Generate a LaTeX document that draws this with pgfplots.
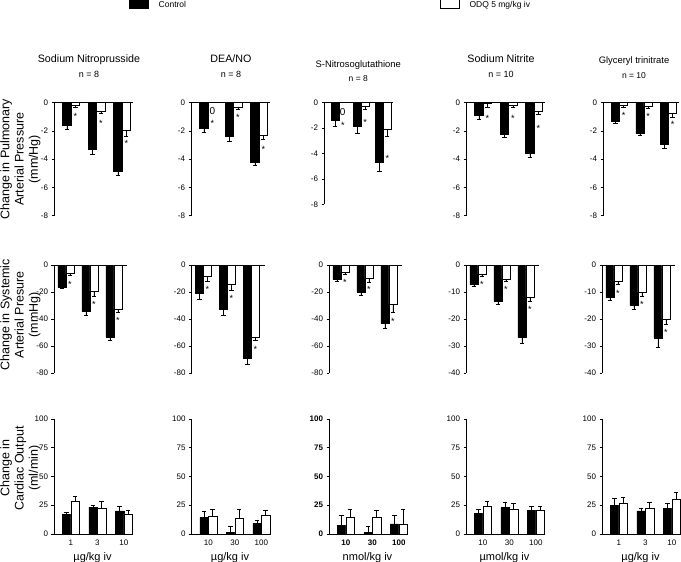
\documentclass[border=0pt]{standalone}
\usepackage{pgfplots}
\pgfplotsset{compat=1.18}
\usepackage{pgfplotstable}
\usepackage{fontspec}
\setmainfont{Liberation Sans}

% columns: dose index, control, control err, ODQ, ODQ err, star y
\pgfplotstableread{
x c ce o oe s
1 -1.59 0.26 -0.19 0.14 -0.81
2 -3.29 0.36 -0.57 0.19 -1.35
3 -4.86 0.26 -1.94 0.43 -2.77
}\Aone
\pgfplotstableread{
x c ce o oe s
1 -1.78 0.33 0 0 -1.35
2 -2.37 0.33 -0.30 0.14 -0.88
3 -4.19 0.26 -2.30 0.30 -3.18
}\Atwo
\pgfplotstableread{
x c ce o oe s
1 -1.39 0.50 0 0 -1.68
2 -1.84 0.58 -0.26 0.26 -1.42
3 -4.72 0.66 -2.07 0.58 -4.25
}\Athree
\pgfplotstableread{
x c ce o oe s
1 -0.92 0.26 -0.05 0.24 -0.95
2 -2.20 0.28 -0.17 0.12 -0.95
3 -3.58 0.31 -0.57 0.24 -1.71
}\Afour
\pgfplotstableread{
x c ce o oe s
1 -1.28 0.19 -0.21 0.12 -0.76
2 -2.18 0.14 -0.24 0.17 -0.81
3 -2.94 0.31 -0.78 0.26 -1.40
}\Afive
\pgfplotstableread{
x c ce o oe s
1 -16.3 1.0 -6.2 1.7 -12.9
2 -34.4 2.5 -19.6 3.2 -27.7
3 -53.2 2.5 -32.9 2.2 -39.6
}\Bone
\pgfplotstableread{
x c ce o oe s
1 -20.8 4.7 -8.7 3.5 -16.6
2 -32.7 4.5 -14.6 4.0 -23.5
3 -69.3 4.2 -53.2 2.7 -61.1
}\Btwo
\pgfplotstableread{
x c ce o oe s
1 -10.6 1.5 -5.4 1.2 -11.6
2 -20.0 2.7 -9.9 2.7 -16.6
3 -43.3 3.7 -29.2 5.9 -40.3
}\Bthree
\pgfplotstableread{
x c ce o oe s
1 -7.2 0.7 -3.3 1.0 -6.4
2 -13.4 1.2 -5.3 0.9 -8.4
3 -26.8 2.1 -12.0 1.5 -15.7
}\Bfour
\pgfplotstableread{
x c ce o oe s
1 -12.0 1.1 -6.1 1.1 -9.7
2 -14.9 1.6 -10.0 1.6 -14.0
3 -27.0 3.3 -20.1 1.9 -24.4
}\Bfive
\pgfplotstableread{
x c ce o oe
1 16.6 2.3 28.5 4.1
2 23.3 1.7 22.4 5.5
3 20.0 3.8 17.4 3.5
}\Cone
\pgfplotstableread{
x c ce o oe
1 14.2 5.8 15.4 5.8
2 1.5 4.7 13.7 7.8
3 9.0 2.9 16.3 3.8
}\Ctwo
\pgfplotstableread{
x c ce o oe
1 7.6 8.1 14.0 7.3
2 1.2 5.8 14.8 5.5
3 8.7 7.3 8.7 12.8
}\Cthree
\pgfplotstableread{
x c ce o oe
1 17.7 3.8 23.8 4.4
2 22.7 4.4 21.2 5.2
3 20.3 3.5 20.9 3.2
}\Cfour
\pgfplotstableread{
x c ce o oe
1 24.7 6.1 26.2 5.5
2 20.0 2.6 21.8 5.5
3 21.8 5.2 29.9 6.1
}\Cfive

\pgfplotsset{
  base/.style={scale only axis, anchor=north west, axis y line*=left,
    tick align=outside, major tick length=2.5pt,
    tick style={black, line width=0.5pt},
    axis line style={black, line width=0.6pt},
    /pgf/number format/assume math mode=true,
    ticklabel style={font=\fontsize{8}{9}\selectfont},
    clip=false,
    ylabel style={align=center, font=\fontsize{12.5}{14.3}\selectfont, anchor=center},
    title style={align=center, anchor=south, inner sep=0pt, font=\fontsize{10.7}{12.5}\selectfont}},
  r1/.style={base, axis x line*=top, xtick=\empty, ymin=-8, ymax=0, ytick={-8,-6,...,0},
    height=113pt, width=79pt, xmin=0.33, xmax=3.43},
  r2/.style={base, axis x line*=top, xtick=\empty, ymax=0,
    height=108pt, width=73pt, xmin=0.5, xmax=3.55},
  r3/.style={base, axis x line*=bottom, xtick={1,2,3}, ymin=0, ymax=100, ytick={0,25,...,100},
    height=115pt, width=77pt, xmin=0.36, xmax=3.27, major x tick style={draw=none},
    xlabel style={at={(axis description cs:0.5,0)}, anchor=base, yshift=-26.5pt, font=\fontsize{11}{12}\selectfont}},
  cb/.style={ybar, bar width=#1, bar shift=0pt, fill=black, draw=black, line width=0.5pt,
    error bars/y explicit, error bars/error bar style={line width=0.5pt, black},
    error bars/error mark options={rotate=90, mark size=2.2pt, line width=0.5pt, black},
    legend image code/.code={\draw[fill=black, draw=black, line width=0.5pt] (0pt,-3.5pt) rectangle (19pt,6pt);}},
  ob/.style={ybar, bar width=#1, bar shift=0pt, fill=white, draw=black, line width=0.5pt,
    error bars/y explicit, error bars/error bar style={line width=0.5pt, black},
    error bars/error mark options={rotate=90, mark size=2.2pt, line width=0.5pt, black},
    legend image code/.code={\draw[fill=white, draw=black, line width=0.5pt] (0pt,-3.5pt) rectangle (19pt,6pt);}},
  star/.style={black, only marks, mark=text, text mark={*}, text mark as node=true,
    text mark style={font=\fontsize{9}{9}\selectfont, yshift=-1.8pt, inner sep=0pt}},
  zero/.style={black, only marks, mark=text, text mark={0}, text mark as node=true,
    text mark style={font=\fontsize{10}{10}\selectfont, inner sep=0pt}},
}

\begin{document}
\begin{tikzpicture}
\path[use as bounding box] (0pt,0pt) rectangle (681pt,-562pt);

% ---------------- Row 1 ----------------
\def\dd{0.167}
\begin{axis}[r1, at={(54pt,-102.7pt)},
  title={Sodium Nitroprusside\\[2.5pt]{\fontsize{9}{10}\selectfont n = 8}},
  title style={at={(axis description cs:0.443,1)}, yshift=19pt},
  ylabel={Change in Pulmonary\\Arterial Pressure\\(mm/Hg)},
  ylabel style={at={(axis description cs:-0.425,0.5)}},
  legend style={at={(axis description cs:0.949,1.865)}, anchor=west, draw=none, fill=none,
    inner sep=0pt, legend columns=2, font=\fontsize{8.5}{9}\selectfont,
    /tikz/every even column/.append style={column sep=252pt},
    /tikz/every odd column/.append style={column sep=8pt}}]
\addplot[cb=8.5pt, error bars/y dir=minus] table[x expr=\thisrow{x}-\dd,y=c,y error=ce]{\Aone};
\addlegendentry{Control}
\addplot[ob=8.5pt, error bars/y dir=minus] table[x expr=\thisrow{x}+\dd,y=o,y error=oe]{\Aone};
\addlegendentry{ODQ 5 mg/kg iv}
\addplot[star] table[x expr=\thisrow{x}+\dd,y=s]{\Aone};
\end{axis}

\begin{axis}[r1, at={(191pt,-102.7pt)},
  title={DEA/NO\\[2.5pt]{\fontsize{9}{10}\selectfont n = 8}},
  title style={at={(axis description cs:0.506,1)}, yshift=19pt}]
\addplot[cb=8.5pt, error bars/y dir=minus] table[x expr=\thisrow{x}-\dd,y=c,y error=ce]{\Atwo};
\addplot[ob=8.5pt, error bars/y dir=minus] table[x expr=\thisrow{x}+\dd,y=o,y error=oe]{\Atwo};
\addplot[star] table[x expr=\thisrow{x}+\dd,y=s]{\Atwo};
\addplot[zero] coordinates {(1.167,-0.57)};
\end{axis}

\def\dd{0.173}
\begin{axis}[r1, at={(324pt,-102.7pt)}, width=69pt, height=101.6pt,
  title={S-Nitrosoglutathione\\[2.5pt]{\fontsize{8.5}{10}\selectfont n = 8}},
  title style={at={(axis description cs:0.497,1)}, yshift=14.5pt, font=\fontsize{9.4}{12}\selectfont}]
\addplot[cb=7.7pt, error bars/y dir=minus] table[x expr=\thisrow{x}-\dd,y=c,y error=ce]{\Athree};
\addplot[ob=7.7pt, error bars/y dir=minus] table[x expr=\thisrow{x}+\dd,y=o,y error=oe]{\Athree};
\addplot[star] table[x expr=\thisrow{x}+\dd,y=s]{\Athree};
\addplot[zero] coordinates {(1.173,-0.71)};
\end{axis}

\def\dd{0.167}
\begin{axis}[r1, at={(466pt,-102.7pt)},
  title={Sodium Nitrite\\[2.5pt]{\fontsize{9}{10}\selectfont n = 10}},
  title style={at={(axis description cs:0.443,1)}, yshift=19pt}]
\addplot[cb=8.5pt, error bars/y dir=minus] table[x expr=\thisrow{x}-\dd,y=c,y error=ce]{\Afour};
\addplot[ob=8.5pt, error bars/y dir=minus] table[x expr=\thisrow{x}+\dd,y=o,y error=oe]{\Afour};
\addplot[star] table[x expr=\thisrow{x}+\dd,y=s]{\Afour};
\end{axis}

\begin{axis}[r1, at={(603pt,-102.7pt)}, width=76pt,
  title={Glyceryl trinitrate\\[2.5pt]{\fontsize{8.5}{10}\selectfont n = 10}},
  title style={at={(axis description cs:0.408,1)}, yshift=18pt, font=\fontsize{9.4}{12}\selectfont}]
\addplot[cb=8.2pt, error bars/y dir=minus] table[x expr=\thisrow{x}-\dd,y=c,y error=ce]{\Afive};
\addplot[ob=8.2pt, error bars/y dir=minus] table[x expr=\thisrow{x}+\dd,y=o,y error=oe]{\Afive};
\addplot[star] table[x expr=\thisrow{x}+\dd,y=s]{\Afive};
\end{axis}

% ---------------- Row 2 ----------------
\def\dd{0.167}
\begin{axis}[r2, at={(54pt,-265pt)}, ymin=-80, ytick={-80,-60,...,0},
  ylabel={Change in Systemic\\Arterial Presure\\(mmHg)},
  ylabel style={at={(axis description cs:-0.46,0.54)}}]
\addplot[cb=8pt, error bars/y dir=minus] table[x expr=\thisrow{x}-\dd,y=c,y error=ce]{\Bone};
\addplot[ob=8pt, error bars/y dir=minus] table[x expr=\thisrow{x}+\dd,y=o,y error=oe]{\Bone};
\addplot[star] table[x expr=\thisrow{x}+\dd,y=s]{\Bone};
\end{axis}

\begin{axis}[r2, at={(191.5pt,-265pt)}, ymin=-80, ytick={-80,-60,...,0}]
\addplot[cb=8pt, error bars/y dir=minus] table[x expr=\thisrow{x}-\dd,y=c,y error=ce]{\Btwo};
\addplot[ob=8pt, error bars/y dir=minus] table[x expr=\thisrow{x}+\dd,y=o,y error=oe]{\Btwo};
\addplot[star] table[x expr=\thisrow{x}+\dd,y=s]{\Btwo};
\end{axis}

\begin{axis}[r2, at={(329pt,-265pt)}, ymin=-80, ytick={-80,-60,...,0}]
\addplot[cb=8pt, error bars/y dir=minus] table[x expr=\thisrow{x}-\dd,y=c,y error=ce]{\Bthree};
\addplot[ob=8pt, error bars/y dir=minus] table[x expr=\thisrow{x}+\dd,y=o,y error=oe]{\Bthree};
\addplot[star] table[x expr=\thisrow{x}+\dd,y=s]{\Bthree};
\end{axis}

\begin{axis}[r2, at={(466pt,-265pt)}, ymin=-40, ytick={-40,-30,...,0}]
\addplot[cb=8pt, error bars/y dir=minus] table[x expr=\thisrow{x}-\dd,y=c,y error=ce]{\Bfour};
\addplot[ob=8pt, error bars/y dir=minus] table[x expr=\thisrow{x}+\dd,y=o,y error=oe]{\Bfour};
\addplot[star] table[x expr=\thisrow{x}+\dd,y=s]{\Bfour};
\end{axis}

\begin{axis}[r2, at={(602pt,-265pt)}, ymin=-40, ytick={-40,-30,...,0}]
\addplot[cb=8pt, error bars/y dir=minus] table[x expr=\thisrow{x}-\dd,y=c,y error=ce]{\Bfive};
\addplot[ob=8pt, error bars/y dir=minus] table[x expr=\thisrow{x}+\dd,y=o,y error=oe]{\Bfive};
\addplot[star] table[x expr=\thisrow{x}+\dd,y=s]{\Bfive};
\end{axis}

% ---------------- Row 3 ----------------
\def\dd{0.161}
\begin{axis}[r3, at={(54pt,-418.8pt)}, xticklabels={1,3,10}, xlabel={µg/kg iv},
  ylabel={Change in\\Cardiac Output\\(ml/min)},
  ylabel style={at={(axis description cs:-0.436,0.57)}}]
\addplot[cb=8.5pt, error bars/y dir=plus] table[x expr=\thisrow{x}-\dd,y=c,y error=ce]{\Cone};
\addplot[ob=8.5pt, error bars/y dir=plus] table[x expr=\thisrow{x}+\dd,y=o,y error=oe]{\Cone};
\end{axis}

\begin{axis}[r3, at={(191.5pt,-418.8pt)}, xticklabels={10,30,100}, xlabel={µg/kg iv}]
\addplot[cb=8.5pt, error bars/y dir=plus] table[x expr=\thisrow{x}-\dd,y=c,y error=ce]{\Ctwo};
\addplot[ob=8.5pt, error bars/y dir=plus] table[x expr=\thisrow{x}+\dd,y=o,y error=oe]{\Ctwo};
\end{axis}

\begin{axis}[r3, at={(329pt,-418.8pt)}, xticklabels={10,30,100}, xlabel={nmol/kg iv},
  ticklabel style={font=\bfseries\fontsize{8}{9}\selectfont}]
\addplot[cb=8.5pt, error bars/y dir=plus] table[x expr=\thisrow{x}-\dd,y=c,y error=ce]{\Cthree};
\addplot[ob=8.5pt, error bars/y dir=plus] table[x expr=\thisrow{x}+\dd,y=o,y error=oe]{\Cthree};
\end{axis}

\begin{axis}[r3, at={(466pt,-418.8pt)}, xticklabels={10,30,100}, xlabel={µmol/kg iv}]
\addplot[cb=8.5pt, error bars/y dir=plus] table[x expr=\thisrow{x}-\dd,y=c,y error=ce]{\Cfour};
\addplot[ob=8.5pt, error bars/y dir=plus] table[x expr=\thisrow{x}+\dd,y=o,y error=oe]{\Cfour};
\end{axis}

\begin{axis}[r3, at={(602pt,-418.8pt)}, xticklabels={1,3,10}, xlabel={µg/kg iv}]
\addplot[cb=8.5pt, error bars/y dir=plus] table[x expr=\thisrow{x}-\dd,y=c,y error=ce]{\Cfive};
\addplot[ob=8.5pt, error bars/y dir=plus] table[x expr=\thisrow{x}+\dd,y=o,y error=oe]{\Cfive};
\end{axis}
\end{tikzpicture}
\end{document}
